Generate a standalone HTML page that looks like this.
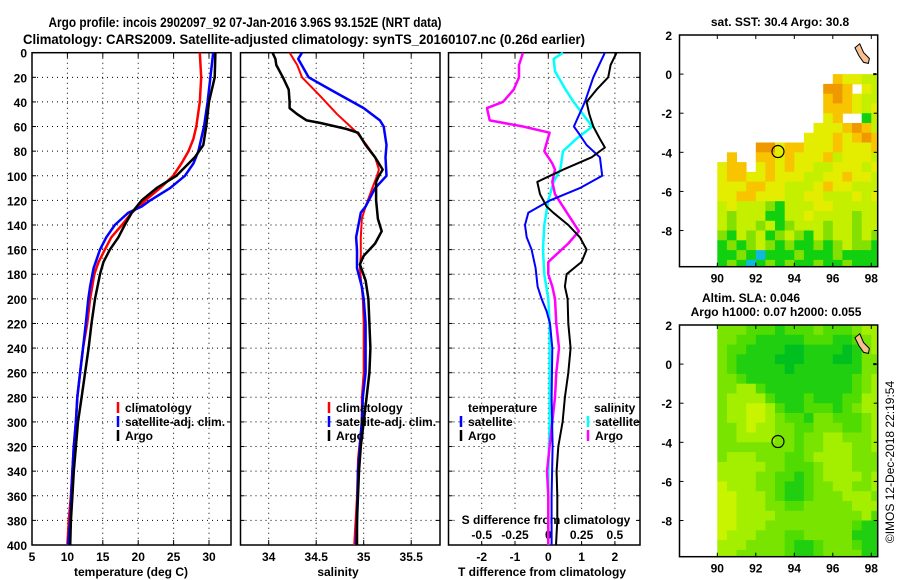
<!DOCTYPE html>
<html><head><meta charset="utf-8"><style>
html,body{margin:0;padding:0;background:#fff;}
svg{display:block;font-family:"Liberation Sans",sans-serif;}
text{font-weight:bold;fill:#000;}
</style></head><body>
<svg id="s" width="900" height="580" viewBox="0 0 900 580"></svg>
<script>
// ---------- data ----------
const tArgoD=[0,20,40,60,75,85,100,110,120,130,140,150,160,170,180,200,220,240,260,280,300,320,340,360,380,400];
const tArgoV=[30.9,30.8,30.0,29.6,29.2,28.0,25.4,22.6,20.5,19.1,18.1,17.2,16.0,15.1,14.6,13.9,13.4,13.0,12.5,12.0,11.5,11.2,10.9,10.7,10.5,10.4];
const tClimD=[0,20,40,60,70,80,90,100,110,120,130,140,150,160,170,180,200,220,240,260,280,300,320,340,360,380,400];
const tClimV=[28.7,28.9,28.7,28.2,27.8,27.1,26.1,24.95,23.1,21.0,19.1,17.7,16.2,15.3,14.4,13.8,13.2,12.8,12.2,11.8,11.4,11.2,10.9,10.7,10.5,10.2,10.0];
const tSatD=[0,20,40,60,80,90,100,110,120,125,130,140,150,160,175,190,200,220,240,260,280,300,320,340,360,380,400];
const tSatV=[30.6,30.2,29.8,29.3,28.5,27.8,26.6,24.5,21.7,20.5,18.6,16.7,15.5,14.6,13.7,13.2,12.95,12.6,12.2,11.8,11.4,11.2,10.9,10.7,10.55,10.4,10.1];
const sArgoD=[0,5,10,20,30,40,45,50,55,57,62,65,75,85,95,100,105,120,135,145,155,165,172,185,200,220,240,260,280,300,320,340,360,380,400];
const sArgoV=[34.04,34.07,34.08,34.15,34.21,34.22,34.22,34.30,34.40,34.54,34.82,34.94,35.02,35.12,35.20,35.16,35.13,35.13,35.15,35.19,35.12,35.0,34.96,35.02,35.05,35.06,35.07,35.06,35.03,35.0,34.97,34.95,34.94,34.93,34.93];
const sClimD=[0,10,20,35,50,60,66,75,85,95,100,110,125,135,150,165,175,200,220,260,280,300,330,360,400];
const sClimV=[34.22,34.30,34.35,34.54,34.72,34.86,34.94,35.03,35.12,35.16,35.14,35.09,35.02,34.98,34.97,34.97,34.96,34.99,35.0,35.0,34.98,34.98,34.94,34.93,34.90];
const sSatD=[0,5,20,30,45,55,60,75,85,100,110,125,130,150,160,175,190,200,220,260,280,300,320,340,380,400];
const sSatV=[34.35,34.31,34.42,34.65,35.0,35.17,35.21,35.24,35.23,35.24,35.12,35.02,34.97,34.92,34.93,34.93,34.98,35.0,35.02,35.02,34.99,34.98,34.96,34.94,34.93,34.92];
const dtArgoD=[0,10,20,30,40,50,60,70,77,85,95,100,105,115,125,130,140,150,160,170,180,190,200,220,240,260,280,300,320,340,360,380,400];
const dtArgoV=[2.05,1.87,1.8,1.45,1.15,1.23,1.35,1.55,1.7,1.3,0.45,0.05,-0.33,-0.25,-0.05,0.15,0.6,0.95,1.15,1.0,0.55,0.5,0.58,0.6,0.67,0.6,0.5,0.43,0.3,0.25,0.27,0.27,0.23];
const dtSatD=[0,20,40,60,65,75,85,100,110,120,130,140,150,160,175,190,200,210,220,240,280,320,360,400];
const dtSatV=[1.7,1.35,1.1,0.77,0.9,1.15,1.55,1.62,0.95,0.05,-0.6,-0.7,-0.65,-0.5,-0.38,-0.32,-0.2,-0.05,0.05,0.12,0.1,0.13,0.1,0.1];
const dsArgoD=[0,10,20,30,40,45,55,60,65,80,90,95,105,115,130,145,155,170,180,190,200,220,240,260,280,300,320,340,360,380,400];
const dsArgoV=[-0.19,-0.22,-0.22,-0.26,-0.34,-0.46,-0.44,-0.19,0.01,-0.03,0.03,0.05,0.03,0.05,0.14,0.23,0.15,0.0,0.0,0.03,0.05,0.06,0.08,0.06,0.05,0.03,0.01,-0.01,0,0,0];
const dsSatD=[0,5,15,30,40,50,60,70,80,95,105,120,140,160,180,200,220,260,300,340,400];
const dsSatV=[0.11,0.04,0.05,0.13,0.19,0.26,0.33,0.21,0.11,0.09,0.04,0,-0.03,-0.04,-0.03,0,0.01,0.01,0.01,0,0];
const depthTicks=[0,20,40,60,80,100,120,140,160,180,200,220,240,260,280,300,320,340,360,380,400];
const tTicks=[5,10,15,20,25,30];
const sTicks=[34,34.5,35,35.5];
const dtTicks=[-2,-1,0,1,2];
const dsTicks=[-0.5,-0.25,0,0.25,0.5];
const dsTickLabels=["-0.5","-0.25","0","0.25","0.5"];
const latTicks=[2,0,-2,-4,-6,-8];
const lonTicks=[90,92,94,96,98];
const argoLon=93.152, argoLat=-3.96;
const sstRows=[
".................",
"............ayyll",
"...........ooa.yl",
"...........aoayll",
"...........aaayly",
"...........ya..Gl",
"..........yyyaoal",
".........yyyayaoa",
"....ooyaayyyayyya",
".a..aayayyyalyyyl",
"yaa.yayayyllyyyly",
"yaayyayyyllyyayyl",
"yyyaayylllyayylll",
"yyaayyyllyylllyly",
"lylllgGlllyylllll",
"lglllGGllyllllgll",
"lgllglGglllgllgll",
"gGlglGglgGlgllglg",
"GgGglgGgGGgGglggG",
"GGgGcGGGgGGGgGGGG",
"GgGcGgGgGGgGGgGGG"];
const slaRows=[
"mmmgggGgggmgggmll",
"mmggGGGGGgggGGgml",
"mggGGGGDDGGGGDGml",
"mgGGGGDDDGGGDDGmm",
"mgGGGGGDGGGGGGGmm",
"mmgGGGGGGGGGGGgml",
"mmllgGGGGGGGGGgml",
"mllllgGGGgGGGggll",
"mllyylgGGgggGgmll",
"mllyylmggGmmgggml",
"mmlyllmmggmmmggml",
"mmllllmmgmmllmmml",
"mmmmmmmmgmmlllmml",
"mlllmmmggmllllmmm",
"lllllmmgggmlllmmm",
"llllmmggGgmllllml",
"ylllmmgGGgmmllmml",
"yylllmgGGgmmmlllm",
"yylllmmggmmmmmlll",
"yyllllmmmmmmmmmlg",
"yylllmmmmmmmmmgGG",
"ylllmmmggmmmmmGGG",
"lllmmmmgGGgmmmgGG",
"llmmmmmgGGgmmmmGG"];
const sstCol={o:"#f09800",a:"#f8c400",y:"#e4ec00",l:"#c4f000",g:"#84e000",G:"#10d010",c:"#10b8e0"};
const slaCol={D:"#00c020",G:"#20d010",g:"#50dc00",m:"#78e400",l:"#a4ee00",y:"#c8f400"};

// ---------- helpers ----------
const NS="http://www.w3.org/2000/svg", S=document.getElementById('s');
function el(tag,attrs,parent){const e=document.createElementNS(NS,tag);for(const k in attrs)e.setAttribute(k,attrs[k]);(parent||S).appendChild(e);return e;}
function txt(x,y,s,anchor,size,parent){const t=el('text',{x:x,y:y,'text-anchor':anchor||'middle','font-size':size||12},parent);t.textContent=s;return t;}
const Y0=52.7, Y400=545;
const yD=d=>Y0+(Y400-Y0)*d/400;
const xT=v=>32+(v-5)*7.08;
const xS=v=>268.7+(v-34)*95;
const xDT=v=>548.3+v*33.3;
const xDS=v=>548.3+v*133.2;

function panel(x0,x1,name,xticks,xf){
  const g=el('g',{});
  
  
  depthTicks.forEach(d=>{ if(d>0&&d<400){el('line',{x1:x0,x2:x1,y1:yD(d),y2:yD(d),stroke:'#000','stroke-width':1,'stroke-dasharray':'1,4'},g);}
    el('line',{x1:x0,x2:x0+4,y1:yD(d),y2:yD(d),stroke:'#000'},g);el('line',{x1:x1-4,x2:x1,y1:yD(d),y2:yD(d),stroke:'#000'},g);});
  xticks.forEach(v=>{const x=xf(v); if(x>x0+1&&x<x1-1) el('line',{x1:x,x2:x,y1:Y0,y2:Y400,stroke:'#000','stroke-dasharray':'1,4'},g);
    el('line',{x1:x,x2:x,y1:Y0,y2:Y0+5,stroke:'#000'},g);el('line',{x1:x,x2:x,y1:Y400-5,y2:Y400,stroke:'#000'},g);});
  el('rect',{x:x0,y:Y0,width:x1-x0,height:Y400-Y0,fill:'none',stroke:'#000','stroke-width':1.5},g);
  return g;
}
function line(D,V,xf,color,w,name){
  const p=D.map((d,i)=>xf(V[i]).toFixed(1)+','+yD(d).toFixed(1)).join(' ');
  const e=el('polyline',{points:p,fill:'none',stroke:color,'stroke-width':w,'stroke-linejoin':'round'});
  
  
}
function legItem(x,y,color,label,g){el('line',{x1:x,x2:x,y1:y-10,y2:y+1,stroke:color,'stroke-width':2.5},g);txt(x+7,y,label,'start',12,g);}

let t1=txt(245,27,"Argo profile: incois 2902097_92 07-Jan-2016 3.96S 93.152E (NRT data)",'middle',14);
t1.setAttribute('textLength','393');t1.setAttribute('lengthAdjust','spacingAndGlyphs');
let t2=txt(304,44,"Climatology: CARS2009. Satellite-adjusted climatology: synTS_20160107.nc (0.26d earlier)",'middle',14);
t2.setAttribute('textLength','562');t2.setAttribute('lengthAdjust','spacingAndGlyphs');

panel(32,231,'temperature-panel',tTicks,xT);
depthTicks.forEach(d=>{const t=txt(27,yD(d)+5,String(d),'end',12);});
tTicks.forEach(v=>{const t=txt(xT(v),561,String(v),'middle',12);});
let ta=txt(131,576,"temperature (deg C)",'middle',12);
line(tClimD,tClimV,xT,'#f00',2.5,'temp-climatology-line');
line(tSatD,tSatV,xT,'#00f',2.5,'temp-satellite-line');
line(tArgoD,tArgoV,xT,'#000',2.5,'temp-argo-line');
let lg1=el('g',{});
legItem(118,412,'#f00','climatology',lg1);legItem(118,426,'#00f','satellite-adj. clim.',lg1);legItem(118,440,'#000','Argo',lg1);

panel(240.5,440,'salinity-panel',sTicks,xS);
sTicks.forEach(v=>{const t=txt(xS(v),561,String(v),'middle',12);});
let sa=txt(338,576,"salinity",'middle',12);
line(sClimD,sClimV,xS,'#f00',2,'sal-climatology-line');
line(sSatD,sSatV,xS,'#00f',2.5,'sal-satellite-line');
line(sArgoD,sArgoV,xS,'#000',2.5,'sal-argo-line');
let lg2=el('g',{});
legItem(329,412,'#f00','climatology',lg2);legItem(329,426,'#00f','satellite-adj. clim.',lg2);legItem(329,440,'#000','Argo',lg2);

panel(448.5,640,'difference-panel',dtTicks,xDT);
dtTicks.forEach(v=>{const t=txt(xDT(v),561,String(v),'middle',12);});
let da=txt(542,576,"T difference from climatology",'middle',12);
let dsTitle=el('g',{});
el('rect',{x:458,y:509,width:178,height:32,fill:'#fff'},dsTitle);
txt(546,524,"S difference from climatology",'middle',12,dsTitle);
dsTicks.forEach((v,i)=>txt(xDS(v),539,dsTickLabels[i],'middle',12,dsTitle));
line(dsSatD,dsSatV,xDS,'#0ff',2.5,'sdiff-satellite-line');
line(dsArgoD,dsArgoV,xDS,'#f0f',2.5,'sdiff-argo-line');
line(dtSatD,dtSatV,xDT,'#00f',2,'tdiff-satellite-line');
line(dtArgoD,dtArgoV,xDT,'#000',2,'tdiff-argo-line');
let lg3=el('g',{});
txt(468,412,"temperature",'start',12,lg3);legItem(461,426,'#00f','satellite',lg3);legItem(461,440,'#000','Argo',lg3);
txt(594,412,"salinity",'start',12,lg3);legItem(588,426,'#0ff','satellite',lg3);legItem(588,440,'#f0f','Argo',lg3);

function map(top,bottom,rows,cols,latStart,name){
  const L=679.5,R=877.7;
  const lonX=v=>717.3+(v-90)*19.25;
  const latY=v=>top+(2-v)*((bottom-top)/11.85);
  const g=el('g',{});
  const cp='clip'+Math.round(top);
  const c=el('clipPath',{id:cp},g);el('rect',{x:L,y:top,width:R-L,height:bottom-top},c);
  const cg=el('g',{'clip-path':'url(#'+cp+')'},g);
  rows.forEach((r,j)=>{for(let i=0;i<r.length;i++){const ch=r[i];if(!cols[ch])continue;
    const x=lonX(90+0.5*i),y=latY(latStart-0.5*j);
    const cell=el('rect',{x:x.toFixed(1),y:y.toFixed(1),width:(lonX(90.5)-lonX(90)+0.5).toFixed(1),height:(latY(0)-latY(0.5)+0.5).toFixed(1),fill:cols[ch]},cg);
    
    }});
  const isl=el('path',{d:`M${lonX(97.15)},${latY(1.35)} L${lonX(97.4)},${latY(1.55)} L${lonX(97.6)},${latY(1.1)} L${lonX(97.9)},${latY(0.8)} L${lonX(97.85)},${latY(0.55)} L${lonX(97.6)},${latY(0.6)} L${lonX(97.35)},${latY(0.95)} Z`,fill:'#f8c090',stroke:'#000','stroke-width':1},cg);
  
  el('rect',{x:lonX(98.1),y:latY(0.05),width:3,height:2,fill:'#000'},cg);
  const ci=el('circle',{cx:lonX(argoLon),cy:latY(argoLat),r:6,fill:'none',stroke:'#000','stroke-width':1.2},g);
  
  el('rect',{x:L,y:top,width:R-L,height:bottom-top,fill:'none',stroke:'#000','stroke-width':1.5},g);
  latTicks.forEach(v=>{const y=latY(v);el('line',{x1:L,x2:L+4,y1:y,y2:y,stroke:'#000'},g);el('line',{x1:R-4,x2:R,y1:y,y2:y,stroke:'#000'},g);txt(672,y+5,String(v),'end',12,g);});
  lonTicks.forEach(v=>{const x=lonX(v);el('line',{x1:x,x2:x,y1:top,y2:top+4,stroke:'#000'},g);el('line',{x1:x,x2:x,y1:bottom-4,y2:bottom,stroke:'#000'},g);txt(x,bottom+16,String(v),'middle',12,g);});
}
map(35,266.7,sstRows,sstCol,0.5,'sst-map');
map(325,556.7,slaRows,slaCol,2,'sla-map');
let m1=txt(780,26,"sat. SST: 30.4 Argo: 30.8",'middle',12);
let m2=txt(751,302,"Altim. SLA: 0.046",'middle',12);
let m3=txt(776,316,"Argo h1000: 0.07 h2000: 0.055",'middle',12);
let cr=txt(0,0,"©IMOS 12-Dec-2018 22:19:54",'middle',12);
cr.setAttribute('transform','translate(894,462) rotate(-90)');cr.style.fontWeight='normal';

</script>
</body></html>
